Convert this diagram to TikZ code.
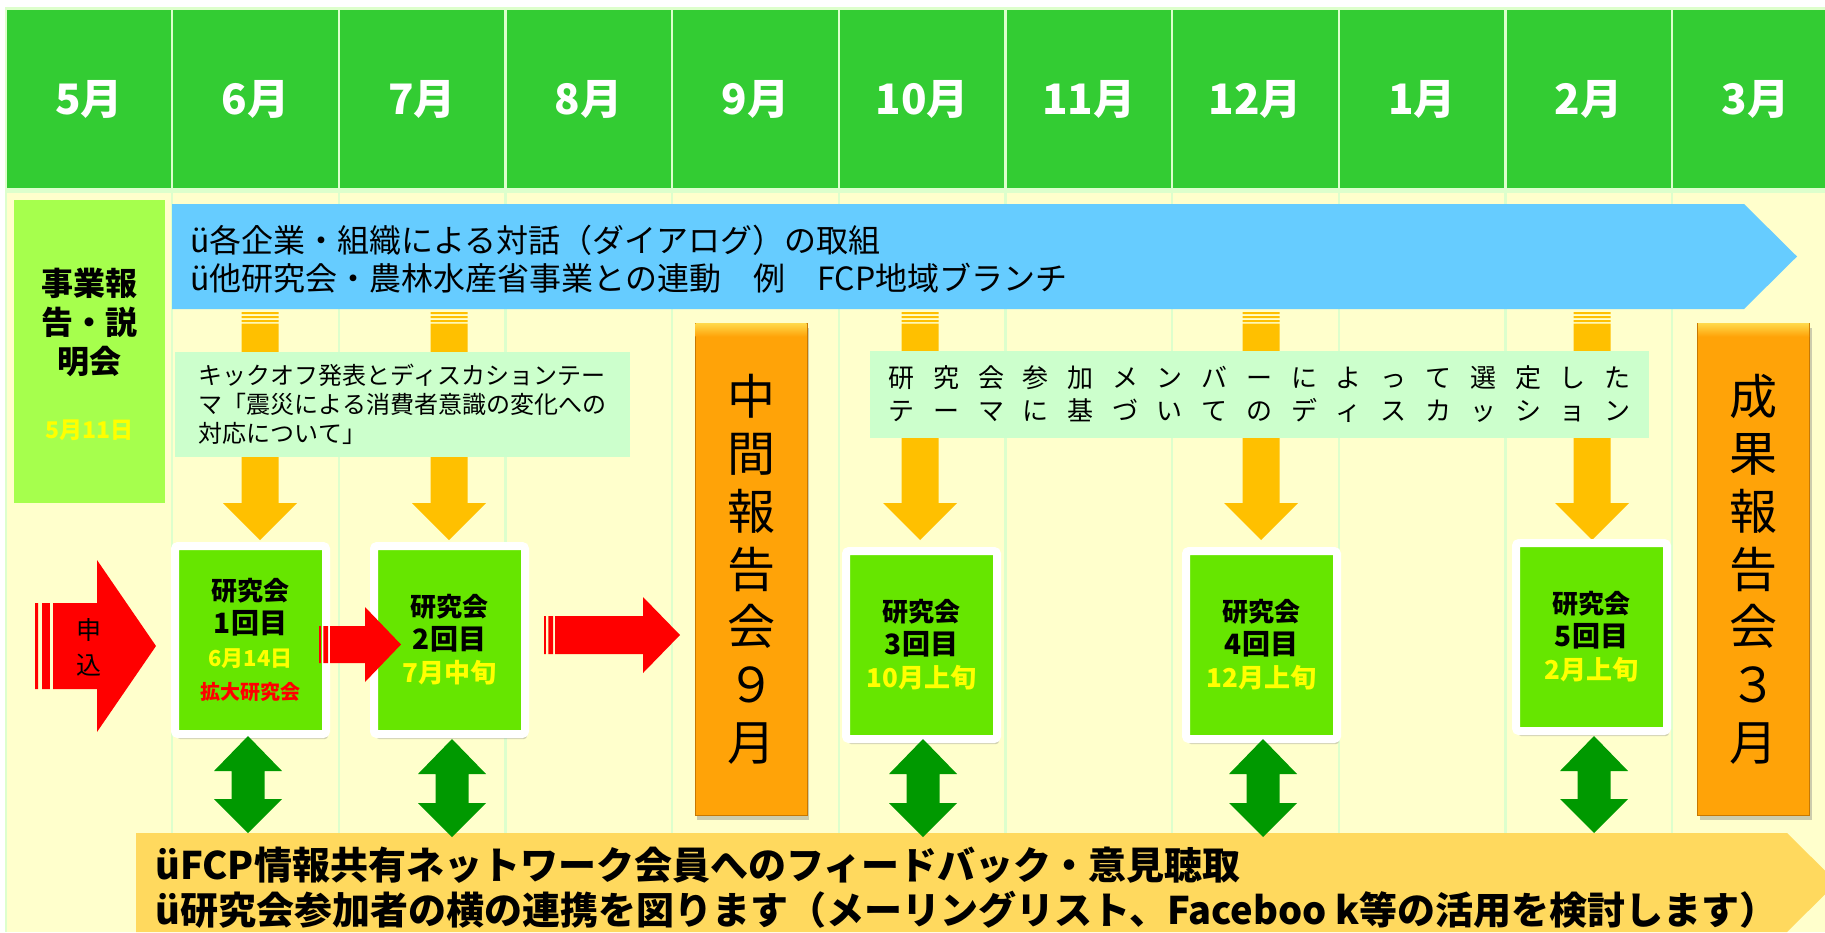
\documentclass[tikz,border=0pt]{standalone}
\usepackage{fontspec}
\setmainfont{Noto Sans CJK JP}
\usetikzlibrary{shadows,positioning}

\definecolor{hdrgreen}{HTML}{33CC33}
\definecolor{gridgreen}{HTML}{DDFFCC}
\definecolor{paleyellow}{HTML}{FFFFCC}
\definecolor{leafgreen}{HTML}{A6FF4D}
\definecolor{skyblue}{HTML}{66CCFF}
\definecolor{amber}{HTML}{FFC000}
\definecolor{mint}{HTML}{CCFFCC}
\definecolor{barorange}{HTML}{FFA308}
\definecolor{barbevel}{HTML}{FFD84A}
\definecolor{baredge}{HTML}{C87800}
\definecolor{meetgreen}{HTML}{66E600}
\definecolor{linkgreen}{HTML}{009900}
\definecolor{notegold}{HTML}{FFD95E}
\definecolor{signalred}{HTML}{FF0000}
\definecolor{dateyellow}{HTML}{FFFF00}

% spread the characters of one line over a fixed width
\newcommand\spreadline[1]{\makebox[742pt][s]{\spreadchars#1\relax}}
\def\spreadchars#1#2{#1\ifx\relax#2\else\hfil\expandafter\spreadchars\expandafter#2\fi}

% orange arrow from the blue band down to a meeting
\newcommand\topicarrow[1]{%
  \fill[amber] (#1-18.5,312) rectangle (#1+18.5,314)
    (#1-18.5,316) rectangle (#1+18.5,318)
    (#1-18.5,320) rectangle (#1+18.5,322)
    (#1-18.5,323.5) -- (#1+18.5,323.5) -- (#1+18.5,503) -- (#1+37,503)
    -- (#1,540) -- (#1-37,503) -- (#1-18.5,503) -- cycle;}
% green two-way arrow
\newcommand\linkarrow[3]{%
  \fill[linkgreen] (#1,#2) -- (#1+34,#2+35) -- (#1+16.5,#2+35) -- (#1+16.5,#3-34)
    -- (#1+34,#3-34) -- (#1,#3) -- (#1-34,#3-34) -- (#1-16.5,#3-34)
    -- (#1-16.5,#2+35) -- (#1-34,#2+35) -- cycle;}
% red striped arrow
\newcommand\stripearrow[7]{%
  \fill[signalred] (#1,#5-#6) rectangle ({#1+0.17*(#2-#1)},#5+#6)
    ({#1+0.39*(#2-#1)},#5-#6) rectangle ({#1+0.83*(#2-#1)},#5+#6)
    (#2,#5-#6) -- (#3,#5-#6) -- (#3,#5-#7) -- (#4,#5) -- (#3,#5+#7)
    -- (#3,#5+#6) -- (#2,#5+#6) -- cycle;}

\begin{document}
\begin{tikzpicture}[x=1pt,y=-1pt,
  monthcell/.style={fill=hdrgreen,minimum width=164.25pt,minimum height=178pt,inner sep=0pt,
    text=white,font=\bfseries\fontsize{42}{46}\selectfont},
  mintbox/.style={fill=mint,inner sep=0pt,align=left},
  reportbar/.style={fill=barorange,draw=baredge,line width=1pt,minimum width=112pt,
    minimum height=492pt,inner sep=0pt,align=center,font=\fontsize{48}{57.7}\selectfont,
    drop shadow={shadow xshift=2pt,shadow yshift=-5pt,opacity=.4}},
  meetbox/.style={fill=meetgreen,draw=white,line width=8pt,rounded corners=3pt,
    minimum width=151pt,minimum height=188pt,inner sep=0pt,align=center,
    font=\bfseries\fontsize{26}{33}\selectfont,
    drop shadow={shadow xshift=2pt,shadow yshift=-5pt,opacity=.35}}]

\useasboundingbox (0,0) rectangle (1825,932);
\fill[gridgreen] (5,7) rectangle (1825,932);

% months
\foreach \mon [count=\i from 0] in {5月,6月,7月,8月,9月,10月,11月,12月,1月,2月,3月}{
  \pgfmathsetmacro\xl{5.5+166.65*\i}
  \pgfmathsetmacro\xr{\xl+166.65}
  \fill[paleyellow] (\xl+1.2,193) rectangle (\xr-1.2,932);
  \node[monthcell] (mon\i) at ({(\xl+\xr)/2},99) {\mon};
}

% briefing
\node[fill=leafgreen,minimum width=151pt,minimum height=303pt] (briefing) at (89.5,351.5) {};
\node[font=\bfseries\fontsize{32}{39}\selectfont,align=center] (briefingtxt) at (89.5,322) {事業報\\告・説\\明会};
\node[font=\bfseries\fontsize{23}{26}\selectfont,text=dateyellow] (briefingdate) at (89.5,430) {5月11日};

% dialogue band
\fill[skyblue] (172,204) -- (1744,204) -- (1797,256.5) -- (1744,309) -- (172,309) -- cycle;
\node[anchor=west,align=left,inner sep=0pt,font=\fontsize{32}{38}\selectfont] (dialogue) at (190,259)
  {ü各企業・組織による対話（ダイアログ）の取組\\ü他研究会・農林水産省事業との連動　例　FCP地域ブランチ};

\foreach \cx in {260,449,920,1261,1592}{\topicarrow{\cx}}

\node[mintbox,minimum width=455pt,minimum height=105pt,font=\fontsize{24}{29}\selectfont] (kickoff) at (402.5,404.5)
  {キックオフ発表とディスカションテー\\マ「震災による消費者意識の変化への\\対応について」};
\node[mintbox,minimum width=779pt,minimum height=87pt,font=\fontsize{26}{33}\selectfont] (themes) at (1259.5,394.5)
  {\spreadline{研究会参加メンバーによって選定した}\\\spreadline{テーマに基づいてのディスカッション}};

% reports
\node[reportbar] (midreport) at (751,569) {中\\間\\報\\告\\会\\９\\月};
\node[reportbar] (finalreport) at (1753.5,569) {成\\果\\報\\告\\会\\３\\月};
\foreach \bar in {midreport,finalreport}{
  \shade[top color=barbevel,bottom color=barorange] ([shift={(1,1)}]\bar.north west) rectangle ([shift={(-1,14)}]\bar.north east);
}

% meetings
\node[meetbox] (mtg1) at (250.5,640) {研究会\\{\fontsize{28}{33}\selectfont 1回目}\\{\color{dateyellow}\fontsize{22}{30}\selectfont 6月14日}\\{\color{signalred}\fontsize{20}{26}\selectfont 拡大研究会}};
\node[meetbox] (mtg2) at (449.5,640) {研究会\\{\fontsize{28}{33}\selectfont 2回目}\\{\color{dateyellow}7月中旬}};
\node[meetbox] (mtg3) at (921.5,645) {研究会\\{\fontsize{28}{33}\selectfont 3回目}\\{\color{dateyellow}10月上旬}};
\node[meetbox] (mtg4) at (1261.5,645) {研究会\\{\fontsize{28}{33}\selectfont 4回目}\\{\color{dateyellow}12月上旬}};
\node[meetbox] (mtg5) at (1591.5,637) {研究会\\{\fontsize{28}{33}\selectfont 5回目}\\{\color{dateyellow}2月上旬}};

% feedback band
\fill[notegold] (136,833) -- (1787,833) -- (1837,882.5) -- (1787,932) -- (136,932) -- cycle;
\node[anchor=west,align=left,inner sep=0pt,font=\bfseries\fontsize{38}{45}\selectfont] (feedback) at (155,887.5)
  {üFCP情報共有ネットワーク会員へのフィードバック・意見聴取\\ü研究会参加者の横の連携を図ります（メーリングリスト、Faceboo k等の活用を検討します）};

\linkarrow{248}{736}{833}
\linkarrow{452}{739}{837}
\linkarrow{923}{739}{837}
\linkarrow{1263}{739}{837}
\linkarrow{1594}{736}{833}

% application and flow
\stripearrow{35}{53}{97}{156}{646}{43}{86}
\stripearrow{319}{330}{365}{401}{644.5}{18.5}{37.5}
\stripearrow{544}{555}{643}{680}{635}{19}{38}
\node[align=center,font=\fontsize{25}{35}\selectfont] (apply) at (89,647) {申\\込};
\end{tikzpicture}
\end{document}
